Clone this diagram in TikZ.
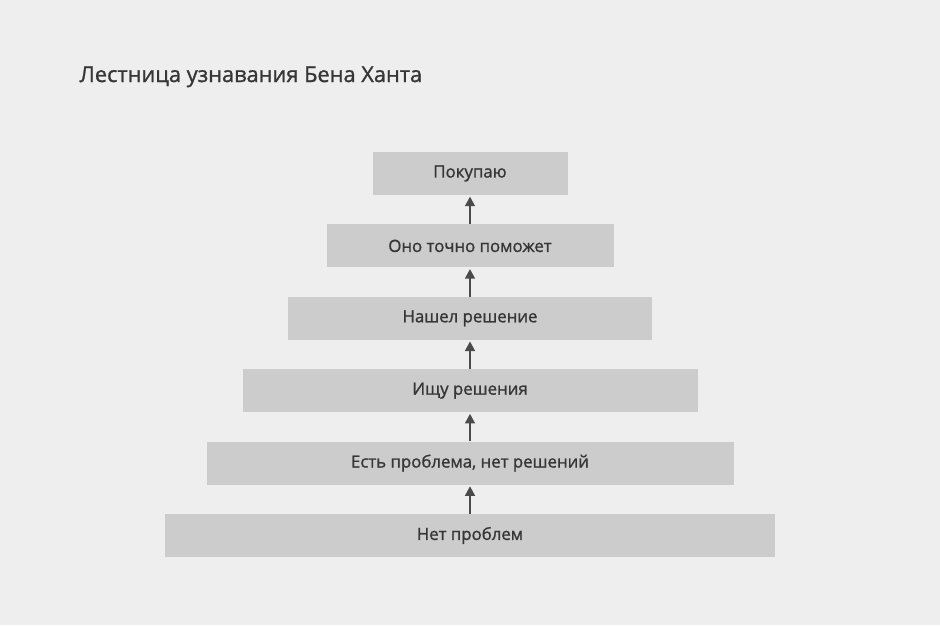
\documentclass[tikz,border=0pt]{standalone}
\usepackage{fontspec}
\setmainfont[BoldFont={Open Sans}, BoldFeatures={FakeBold=1.2}]{Open Sans}
\usetikzlibrary{arrows.meta}
\usetikzlibrary{positioning}
\definecolor{bggray}{HTML}{EEEEEE}
\definecolor{rungfill}{HTML}{CCCCCC}
\definecolor{inkgray}{HTML}{363636}
\tikzset{
  rung/.style={fill=rungfill, minimum height=43pt, inner sep=0pt,
    text=inkgray, font=\fontsize{16.8}{19}\selectfont\bfseries},
  climb/.style={-{Triangle[length=9.5pt,width=10pt]}, draw=inkgray!90, fill=inkgray!90,
    line width=1.3pt, shorten >=1.5pt}
}
\begin{document}
\begin{tikzpicture}[x=1pt,y=1pt, node distance=29pt]
  \fill[bggray] (0,0) rectangle (940,-625);
  \useasboundingbox (0,0) rectangle (940,-625);
  \node[anchor=base west, text=inkgray, font=\fontsize{21.8}{25}\selectfont\bfseries] (title) at (76,-82) {Лестница узнавания Бена Ханта};
  % ladder from bottom to top
  \node[rung, minimum width=610pt] (nop) at (470,-535.5) {Нет проблем};
  \node[rung, minimum width=527pt, above=of nop] (prob) {Есть проблема, нет решений};
  \node[rung, minimum width=455pt, above=of prob] (seek) {Ищу решения};
  \node[rung, minimum width=364pt, above=of seek] (found) {Нашел решение};
  \node[rung, minimum width=287pt, above=of found] (sure) {Оно точно поможет};
  \node[rung, minimum width=195pt, above=of sure] (buy) {Покупаю};
  \foreach \a/\b in {nop/prob,prob/seek,seek/found,found/sure,sure/buy}
    \draw[climb] (\a.north) -- (\b.south);
\end{tikzpicture}
\end{document}
